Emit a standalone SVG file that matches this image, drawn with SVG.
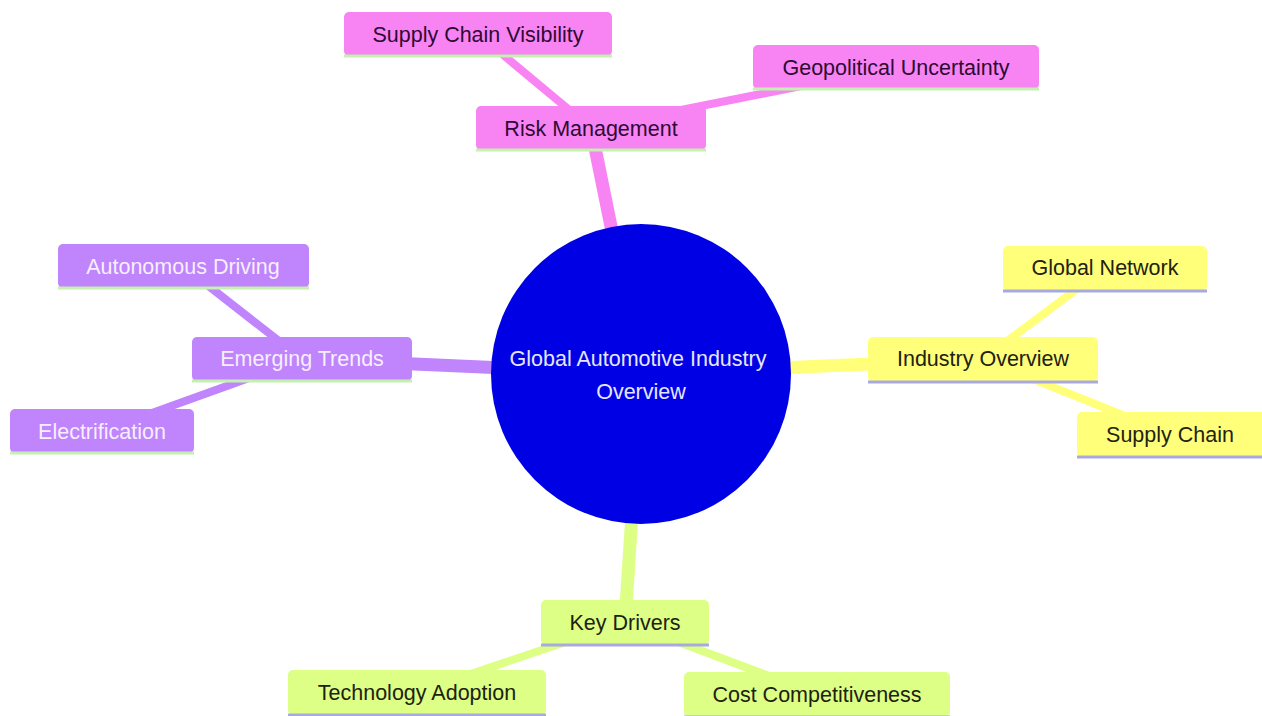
<svg xmlns="http://www.w3.org/2000/svg" width="1262" height="716" viewBox="0 0 1262 716">
<style>
  text { font-family: "Liberation Sans", Arial, sans-serif; font-size: 21.5px; text-anchor: middle; }
  .e1 { stroke-width: 13; fill: none; stroke-linecap: butt; }
  .e2 { stroke-width: 8; fill: none; stroke-linecap: butt; }
  .pink { fill: #f884f3; } .pinkS { stroke: #f884f3; }
  .purple { fill: #c084fc; } .purpleS { stroke: #c084fc; }
  .yellow { fill: #ffff7a; } .yellowS { stroke: #ffff7a; }
  .green { fill: #ddff85; } .greenS { stroke: #ddff85; }
  .tpink { fill: #2e0a33; }
  .tpurple { fill: #f6efff; }
  .tyellow { fill: #222211; }
  .tgreen { fill: #1c2210; }
  .lineG { stroke: #c4f0b0; stroke-width: 3; }
  .lineL { stroke: #a9a9e2; stroke-width: 3; }
</style>
<rect width="1262" height="716" fill="#ffffff"/>
<g id="connectors">
  <line class="e1 pinkS" x1="641" y1="374" x2="591" y2="128"/>
  <line class="e2 pinkS" x1="591" y1="128" x2="478" y2="34"/>
  <line class="e2 pinkS" x1="591" y1="128" x2="896" y2="67"/>
  <line class="e1 purpleS" x1="641" y1="374" x2="302" y2="359"/>
  <line class="e2 purpleS" x1="302" y1="359" x2="183" y2="266"/>
  <line class="e2 purpleS" x1="302" y1="359" x2="102" y2="431"/>
  <line class="e1 yellowS" x1="641" y1="374" x2="983" y2="359"/>
  <line class="e2 yellowS" x1="983" y1="359" x2="1105" y2="268"/>
  <line class="e2 yellowS" x1="983" y1="359" x2="1170" y2="434"/>
  <line class="e1 greenS" x1="641" y1="374" x2="625" y2="622"/>
  <line class="e2 greenS" x1="625" y1="622" x2="417" y2="692"/>
  <line class="e2 greenS" x1="625" y1="622" x2="817" y2="694"/>
</g>
<g id="root">
  <circle cx="641" cy="374" r="150" fill="#0000e4"/>
  <text x="638" y="366" fill="#e6e6ff">Global Automotive Industry</text>
  <text x="641" y="399" fill="#e6e6ff">Overview</text>
</g>
<g id="risk-management">
  <rect class="pink" x="476" y="106" width="230" height="44" rx="5"/>
  <line class="lineG" x1="476" y1="150" x2="706" y2="150"/>
  <text class="tpink" x="591" y="136">Risk Management</text>
</g>
<g id="supply-chain-visibility">
  <rect class="pink" x="344" y="12" width="268" height="44" rx="5"/>
  <line class="lineG" x1="344" y1="56" x2="612" y2="56"/>
  <text class="tpink" x="478" y="42">Supply Chain Visibility</text>
</g>
<g id="geopolitical-uncertainty">
  <rect class="pink" x="753" y="45" width="286" height="44" rx="5"/>
  <line class="lineG" x1="753" y1="89" x2="1039" y2="89"/>
  <text class="tpink" x="896" y="75">Geopolitical Uncertainty</text>
</g>
<g id="emerging-trends">
  <rect class="purple" x="192" y="337" width="220" height="44" rx="5"/>
  <line class="lineG" x1="192" y1="381" x2="412" y2="381"/>
  <text class="tpurple" x="302" y="366">Emerging Trends</text>
</g>
<g id="autonomous-driving">
  <rect class="purple" x="58" y="244" width="251" height="44" rx="5"/>
  <line class="lineG" x1="58" y1="288" x2="309" y2="288"/>
  <text class="tpurple" x="183" y="274">Autonomous Driving</text>
</g>
<g id="electrification">
  <rect class="purple" x="10" y="409" width="184" height="44" rx="5"/>
  <line class="lineG" x1="10" y1="453" x2="194" y2="453"/>
  <text class="tpurple" x="102" y="439">Electrification</text>
</g>
<g id="industry-overview">
  <rect class="yellow" x="868" y="337" width="230" height="45" rx="5"/>
  <line class="lineL" x1="868" y1="382" x2="1098" y2="382"/>
  <text class="tyellow" x="983" y="366">Industry Overview</text>
</g>
<g id="global-network">
  <rect class="yellow" x="1003" y="246" width="204" height="45" rx="5"/>
  <line class="lineL" x1="1003" y1="291" x2="1207" y2="291"/>
  <text class="tyellow" x="1105" y="275">Global Network</text>
</g>
<g id="supply-chain">
  <rect class="yellow" x="1077" y="412" width="190" height="45" rx="5"/>
  <line class="lineL" x1="1077" y1="457" x2="1267" y2="457"/>
  <text class="tyellow" x="1170" y="442">Supply Chain</text>
</g>
<g id="key-drivers">
  <rect class="green" x="541" y="600" width="168" height="45" rx="5"/>
  <line class="lineL" x1="541" y1="645" x2="709" y2="645"/>
  <text class="tgreen" x="625" y="630">Key Drivers</text>
</g>
<g id="technology-adoption">
  <rect class="green" x="288" y="670" width="258" height="45" rx="5"/>
  <line class="lineL" x1="288" y1="715" x2="546" y2="715"/>
  <text class="tgreen" x="417" y="700">Technology Adoption</text>
</g>
<g id="cost-competitiveness">
  <rect class="green" x="684" y="672" width="266" height="45" rx="5"/>
  <line class="lineL" x1="684" y1="717" x2="950" y2="717"/>
  <text class="tgreen" x="817" y="702">Cost Competitiveness</text>
</g>
</svg>
